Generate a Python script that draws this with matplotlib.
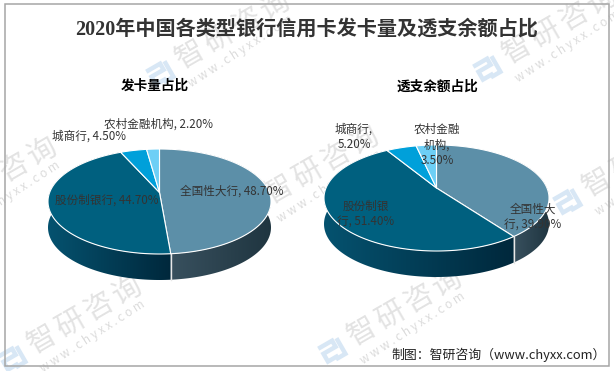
import numpy as np
import matplotlib
matplotlib.use("Agg")
import matplotlib.pyplot as plt
from matplotlib.colors import LinearSegmentedColormap
from matplotlib.patches import Polygon, Rectangle
from matplotlib.lines import Line2D

plt.rcParams['font.family'] = ['Noto Sans CJK SC', 'DejaVu Sans']

title = "2020年中国各类型银行信用卡发卡量及透支余额占比"
source = "制图：智研咨询（www.chyxx.com）"
categories = ["全国性大行", "股份制银行", "城商行", "农村金融机构"]
card_title = "发卡量占比"
card_values = [48.7, 44.7, 4.5, 2.2]
overdraft_title = "透支余额占比"
overdraft_values = [39.9, 51.4, 5.2, 3.5]
card_labels = ["全国性大行, 48.70%", "股份制银行, 44.70%", "城商行, 4.50%", "农村金融机构, 2.20%"]
overdraft_labels = ["全国性大\n行, 39.90%", "股份制银\n行, 51.40%", "城商行,\n5.20%", "农村金融\n机构,\n3.50%"]

slice_colors = ["#5C8FA8", "#00607F", "#00A0DA", "#6DCFF6"]
side_colors = [("#38505E", "#1F3540"), ("#05526F", "#00283C"),
               ("#006A91", "#006A91"), ("#4A8CA8", "#4A8CA8")]

W, H = 614, 371
fig = plt.figure(figsize=(W / 100, H / 100), dpi=100, facecolor="white")
ax = fig.add_axes([0, 0, 1, 1])
ax.set_xlim(0, W)
ax.set_ylim(H, 0)
ax.axis("off")


def watermark(dx, dy):
    angle = 30
    c = "#8A8A8A"
    for ch, step in zip("智研咨询", range(4)):
        ax.text(42 + dx + 28.5 * step, 340 + dy - 16.3 * step, ch, fontsize=21, rotation=angle,
                color=c, alpha=0.24, ha="center", va="center", rotation_mode="anchor", zorder=1)
    ax.text(93 + dx, 336 + dy, "w w w . c h y x x . c o m", fontsize=8.5, rotation=angle + 3,
            color=c, alpha=0.30, ha="center", va="center", rotation_mode="anchor", zorder=1)
    t = np.radians(-angle)
    R = np.array([[np.cos(t), -np.sin(t)], [np.sin(t), np.cos(t)]])
    shapes = [[(-13, -9), (3, -9), (3, -2), (-11, -2), (-11, 7), (1, 7)],
              [(8, -9), (8, 9), (-3, 9)]]
    for s in shapes:
        p = (R @ np.array(s, float).T).T + [14 + dx, 358 + dy]
        ax.add_line(Line2D(p[:, 0], p[:, 1], color="#D8E7F5", lw=3.2, zorder=1,
                           solid_capstyle="butt", solid_joinstyle="miter"))


for off in [(0, 0), (148, -285), (-85, -139), (237, -150), (475, -290), (555, -157), (320, -8)]:
    watermark(*off)


def pie3d(values, labels, sub, cx, cy, rx, ry, apex_up, depth, label_pos, sub_pos):
    vals = np.array(values, float)
    edges = np.concatenate([[0], np.cumsum(vals) / vals.sum()]) * 2 * np.pi
    k = apex_up / ry
    A = rx * np.sqrt(1 - k * k)

    def rim(theta):
        u, v = np.sin(theta), np.cos(theta)
        w = 1 + k * v
        return cx + A * u / w, cy - (ry * v + apex_up) / w

    apex = (cx, cy - apex_up)
    for i in range(len(vals)):
        th = np.linspace(edges[i], edges[i + 1], 160)
        x, y = rim(th)
        front = y >= cy - 2
        if front.sum() >= 2:
            poly = np.vstack([np.c_[x, y], np.c_[x, y + depth][::-1]])
            patch = Polygon(poly, closed=True, fc="none", ec="none", zorder=2)
            ax.add_patch(patch)
            cmap = LinearSegmentedColormap.from_list("s", side_colors[i])
            x0, x1 = x[front].min(), x[front].max()
            im = ax.imshow(np.linspace(0, 1, 128)[None, :], cmap=cmap, aspect="auto",
                           extent=(x0, x1, y.max() + depth, y.min()), zorder=2,
                           interpolation="bilinear")
            im.set_clip_path(patch)
    ax.set_xlim(0, W)
    ax.set_ylim(H, 0)
    for e in edges[:-1]:
        ex, ey = rim(e)
        if ey > cy:
            ax.plot([ex, ex], [ey, ey + depth], color="#E8E8E8", lw=1.0, zorder=3)
    for i in range(len(vals)):
        th = np.linspace(edges[i], edges[i + 1], 200)
        x, y = rim(th)
        poly = np.vstack([apex, np.c_[x, y]])
        ax.add_patch(Polygon(poly, closed=True, fc=slice_colors[i], ec="white", lw=0.8,
                             joinstyle="round", zorder=4))
    for lab, (lx, ly) in zip(labels, label_pos):
        ax.text(lx, ly, lab, fontsize=8.35, color="#333333", ha="center", va="center",
                linespacing=1.3, zorder=5)
    ax.text(sub_pos[0], sub_pos[1], sub, fontsize=9.8, fontweight="bold", color="black",
            ha="center", va="center", zorder=5)


pie3d(card_values, card_labels, card_title, 159.5, 201.5, 111.5, 52.5, 9, 26,
      [(232, 191), (107, 200), (89, 136), (159, 124)], (155, 86))
pie3d(overdraft_values, overdraft_labels, overdraft_title, 436.5, 198, 112.5, 53, 10, 26,
      [(533, 217), (366, 214), (354, 137), (437, 145)], (437, 87))

ax.text(307, 30, title, fontsize=14.5, fontweight="bold", color="#333333", ha="center", va="center",
        family=['Liberation Serif', 'Noto Sans CJK SC'], zorder=6)
ax.text(606, 355, source, fontsize=9.3, color="#222222", ha="right", va="center", zorder=6)
ax.add_patch(Rectangle((4.5, 4), 604.5, 362, fc="none", ec="#A6A6A6", lw=1.1, zorder=7))

fig.savefig("out.png", dpi=100)
